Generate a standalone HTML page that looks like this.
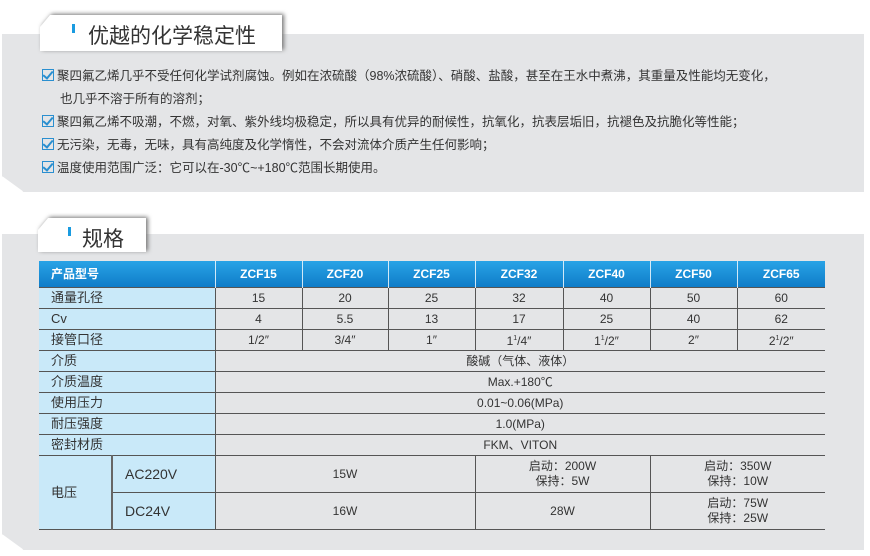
<!DOCTYPE html>
<html><head><meta charset="utf-8"><style>
body{margin:0;width:870px;height:556px;background:#fff;font-family:"Liberation Sans","Noto Sans CJK SC",sans-serif;position:relative;overflow:hidden;color:#333}
.panel{position:absolute;left:2px;width:862px;background:#e4e5e7;clip-path:polygon(0 0,100% 0,100% 100%,22px 100%,0 calc(100% - 16px));box-shadow:0 2px 3px #aaa}
.tabw{position:absolute;filter:drop-shadow(2px -1px 2px #777)}
.tab{position:absolute;left:0;top:0;background:#fff;clip-path:polygon(10px 0,100% 0,100% 100%,0 100%,0 12px);font-size:21px;color:#333}
.tab i{position:absolute;width:3px;height:9px;background:#1a9be0;top:9px}
.li{position:absolute;left:42px;font-size:12.5px;color:#333;white-space:nowrap}
.cb{display:inline-block;width:10px;height:10px;border:1.5px solid #2a8fd0;margin-right:3px;vertical-align:-1px;position:relative}
.cb:after{content:"";position:absolute;left:2px;top:-1px;width:4px;height:8px;border:solid #2a8fd0;border-width:0 2px 2px 0;transform:rotate(40deg)}
table{position:absolute;left:39px;top:261px;border-collapse:collapse;font-size:12px}
td{border:1px solid #555;text-align:center;padding:0;height:20px;color:#333;line-height:18px}
.h td{background:linear-gradient(#29a3e6,#0f7cc8);color:#fff;font-weight:bold;height:26px;border:1px solid rgba(255,255,255,.8);border-top:none;border-bottom:none;font-size:12px}
.l{background:#c9e9f9;text-align:left;padding-left:12px;font-size:13px;border-right:1px solid #555;border-left:none;line-height:18px}
</style></head><body>
<div class="panel" style="top:34px;height:158px"></div>
<div class="tabw" style="left:40px;top:15px;width:242px;height:36px"><div class="tab" style="width:242px;height:36px"><i style="left:32px"></i><span style="position:absolute;left:48px;top:5px">优越的化学稳定性</span></div></div>
<div class="li" style="top:65px"><span class="cb"></span>聚四氟乙烯几乎不受任何化学试剂腐蚀。例如在浓硫酸（98%浓硫酸）、硝酸、盐酸，甚至在王水中煮沸，其重量及性能均无变化，</div>
<div class="li" style="top:88px;left:60px">也几乎不溶于所有的溶剂；</div>
<div class="li" style="top:111px"><span class="cb"></span>聚四氟乙烯不吸潮，不燃，对氧、紫外线均极稳定，所以具有优异的耐候性，抗氧化，抗表层垢旧，抗褪色及抗脆化等性能；</div>
<div class="li" style="top:134px"><span class="cb"></span>无污染，无毒，无味，具有高纯度及化学惰性，不会对流体介质产生任何影响；</div>
<div class="li" style="top:157px"><span class="cb"></span>温度使用范围广泛：它可以在-30℃~+180℃范围长期使用。</div>

<div class="panel" style="top:234px;height:316px"></div>
<div class="tabw" style="left:38px;top:218px;width:108px;height:34px"><div class="tab" style="width:108px;height:34px"><i style="left:30px"></i><span style="position:absolute;left:44px;top:5px">规格</span></div></div>
<table>
<colgroup><col style="width:73px"><col style="width:103px"><col style="width:87px"><col style="width:86px"><col style="width:87px"><col style="width:88px"><col style="width:87px"><col style="width:87px"><col style="width:88px"></colgroup>
<tr class="h"><td colspan="2" style="text-align:left;padding-left:12px;border-left:none">产品型号</td><td>ZCF15</td><td>ZCF20</td><td>ZCF25</td><td>ZCF32</td><td>ZCF40</td><td>ZCF50</td><td style="border-right:none">ZCF65</td></tr>
<tr><td colspan="2" class="l">通量孔径</td><td>15</td><td>20</td><td>25</td><td>32</td><td>40</td><td>50</td><td style="border-right:none">60</td></tr>
<tr><td colspan="2" class="l">Cv</td><td>4</td><td>5.5</td><td>13</td><td>17</td><td>25</td><td>40</td><td style="border-right:none">62</td></tr>
<tr><td colspan="2" class="l">接管口径</td><td>1/2″</td><td>3/4″</td><td>1″</td><td>1<sup style="font-size:7px">1</sup>/4″</td><td>1<sup style="font-size:7px">1</sup>/2″</td><td>2″</td><td style="border-right:none">2<sup style="font-size:7px">1</sup>/2″</td></tr>
<tr><td colspan="2" class="l">介质</td><td colspan="7" style="border-right:none">酸碱（气体、液体）</td></tr>
<tr><td colspan="2" class="l">介质温度</td><td colspan="7" style="border-right:none">Max.+180℃</td></tr>
<tr><td colspan="2" class="l">使用压力</td><td colspan="7" style="border-right:none">0.01~0.06(MPa)</td></tr>
<tr><td colspan="2" class="l">耐压强度</td><td colspan="7" style="border-right:none">1.0(MPa)</td></tr>
<tr><td colspan="2" class="l">密封材质</td><td colspan="7" style="border-right:none">FKM、VITON</td></tr>
<tr><td rowspan="2" class="l" style="border-right:2px solid #666">电压</td><td class="l" style="height:36px;font-size:14px">AC220V</td><td colspan="3">15W</td><td colspan="2" style="line-height:15px">启动：200W<br>保持：5W</td><td colspan="2" style="border-right:none;line-height:15px">启动：350W<br>保持：10W</td></tr>
<tr><td class="l" style="height:36px;font-size:14px">DC24V</td><td colspan="3">16W</td><td colspan="2">28W</td><td colspan="2" style="border-right:none;line-height:15px">启动：75W<br>保持：25W</td></tr>
</table>
</body></html>
